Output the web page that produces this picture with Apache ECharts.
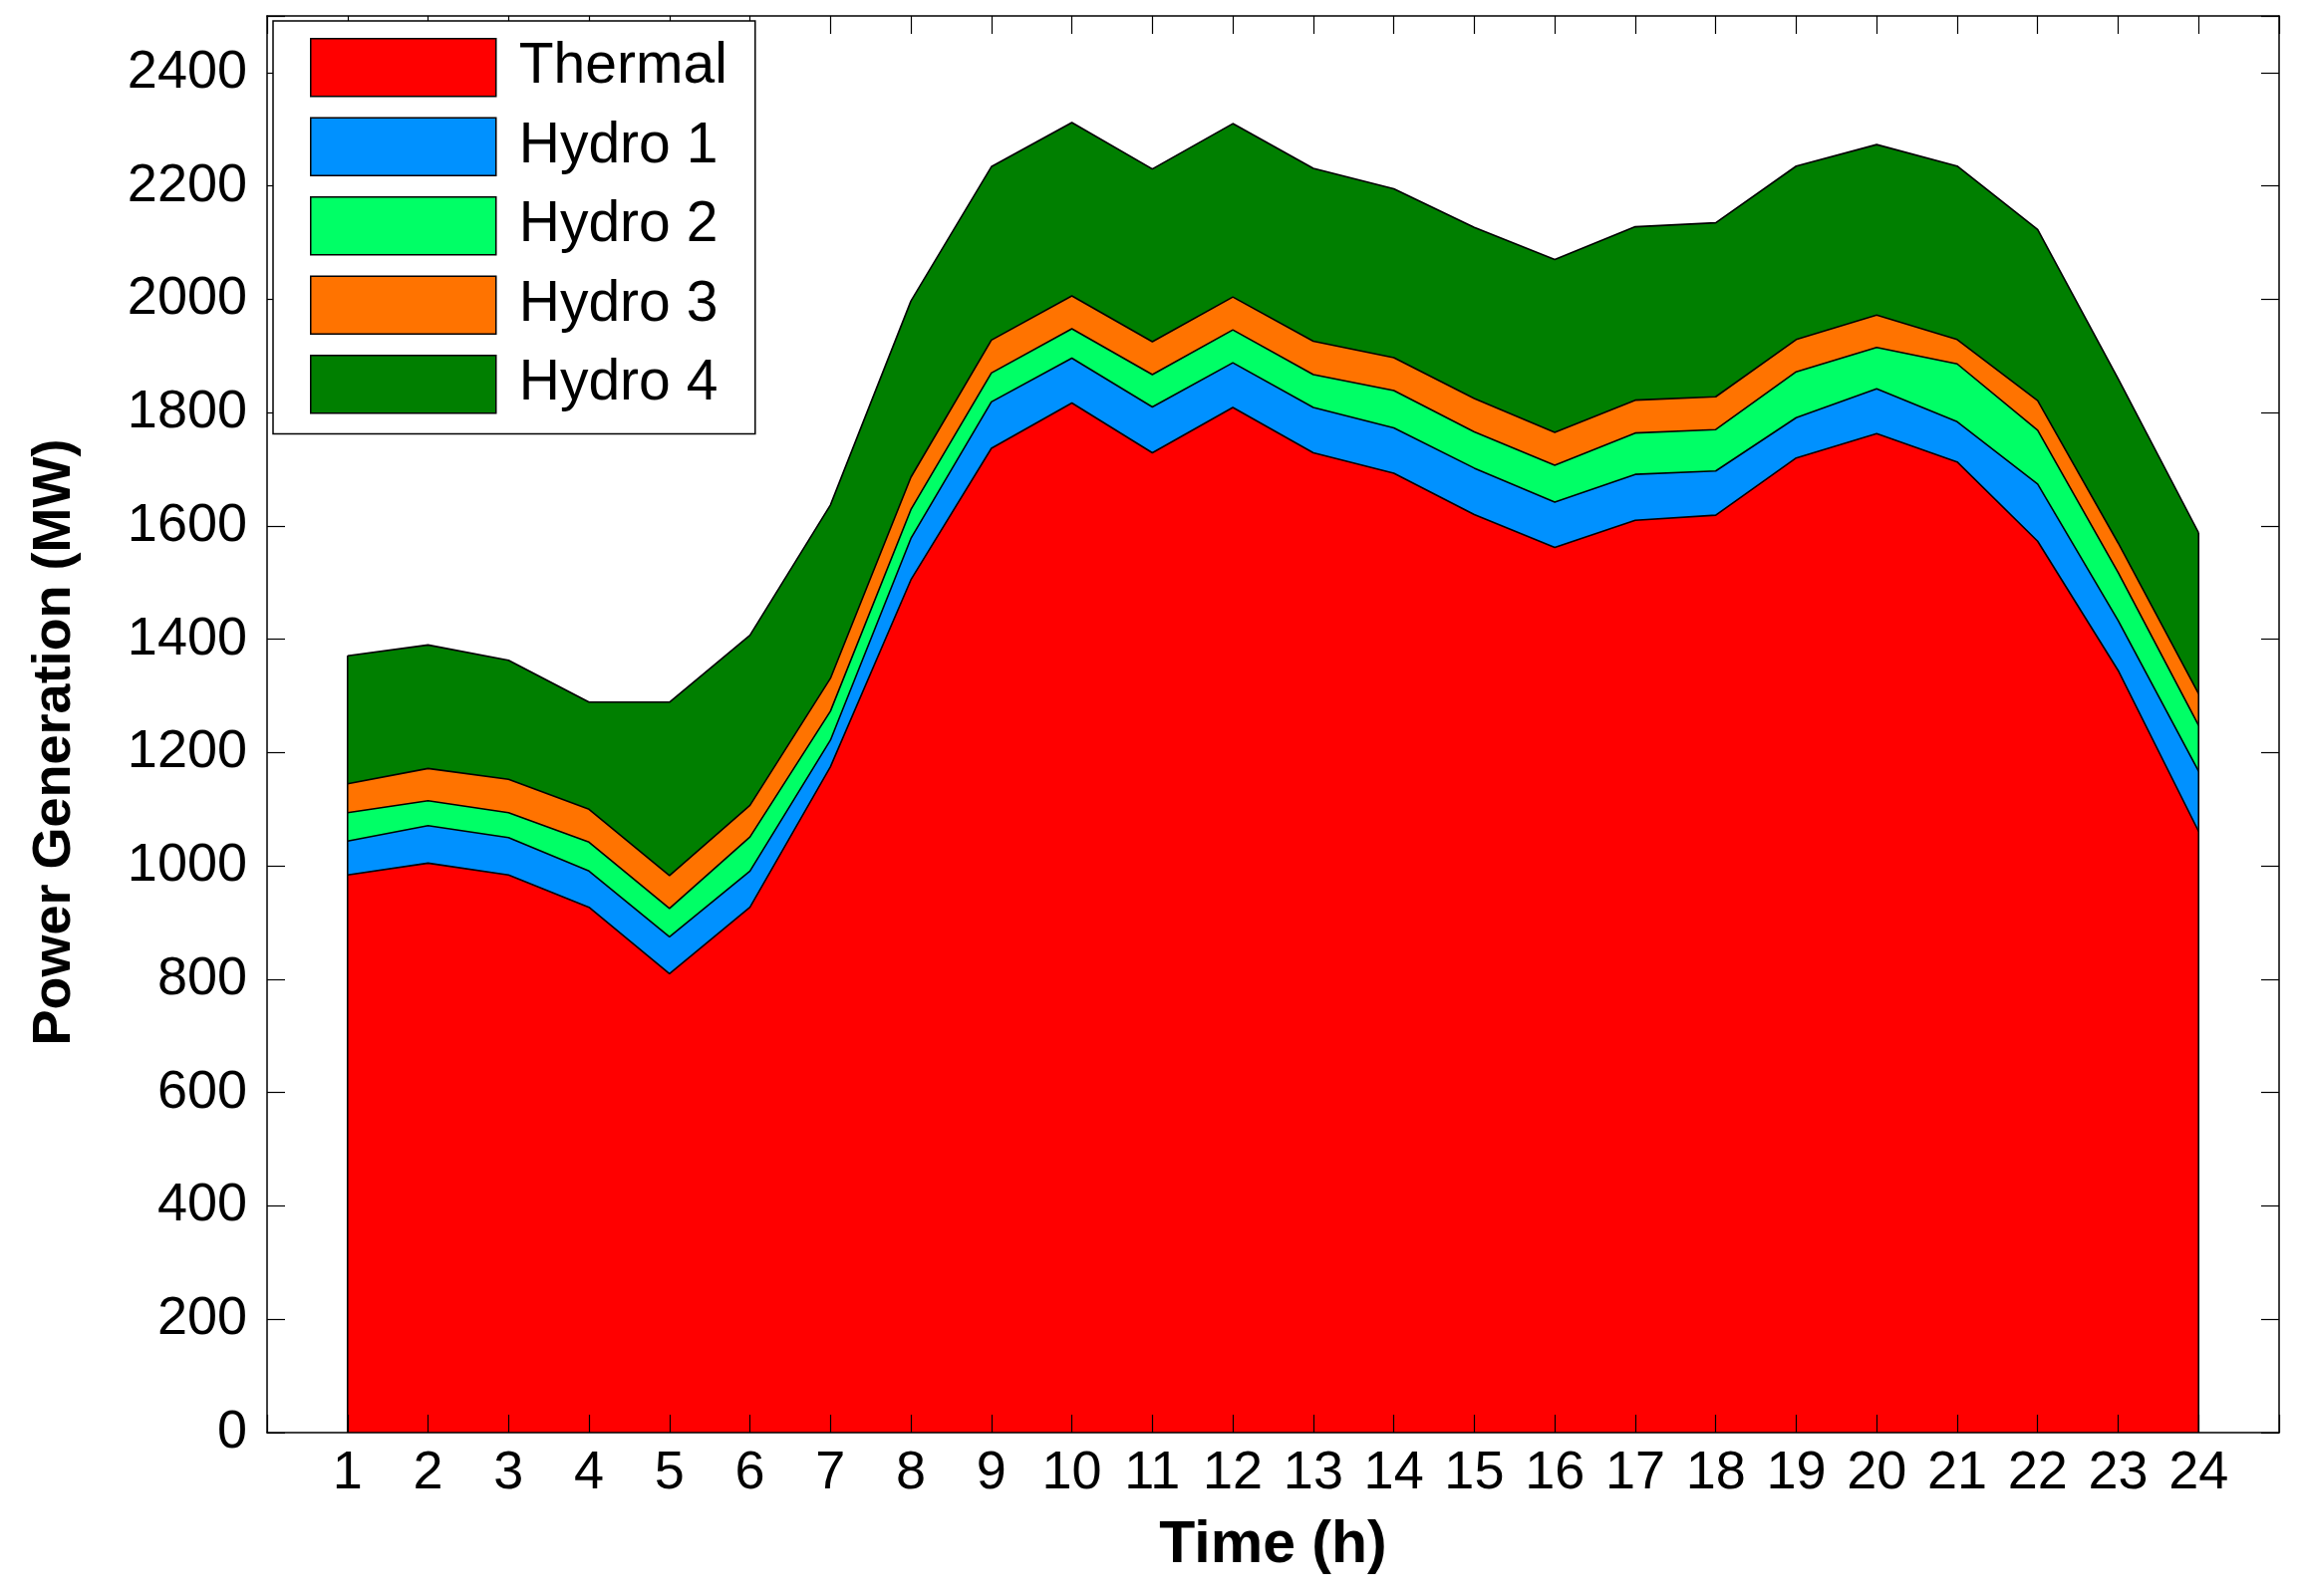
<!DOCTYPE html>
<html>
<head>
  <meta charset="utf-8">
  <script src="https://cdn.jsdelivr.net/npm/echarts@6.0.0/dist/echarts.min.js"></script>
  <style>
    body { margin: 0; background: #fff; }
    #chart { width: 2313px; height: 1602px; }
  </style>
</head>
<body>
  <div id="chart"></div>
  <script>
    // hourly generation per unit (MW)
    var hours   = [1, 2, 3, 4, 5, 6, 7, 8, 9, 10, 11, 12, 13, 14, 15, 16, 17, 18, 19, 20, 21, 22, 23, 24];
    var thermal = [984, 1005, 984, 927, 810, 927, 1175, 1505, 1737, 1817, 1729, 1809, 1729, 1693, 1620, 1562, 1610, 1619, 1720, 1763, 1713, 1573, 1345, 1061];
    var hydro1  = [60, 66, 66, 64, 65, 64, 47, 73, 82, 79, 81, 79, 80, 80, 82, 80, 81, 78, 71, 79, 71, 101, 88, 106];
    var hydro2  = [50, 44, 44, 51, 50, 60, 51, 51, 51, 52, 57, 58, 58, 66, 64, 65, 73, 73, 81, 73, 102, 95, 85, 81];
    var hydro3  = [51, 57, 59, 58, 58, 56, 58, 57, 58, 58, 58, 58, 59, 58, 59, 58, 58, 58, 57, 57, 43, 52, 52, 56];
    var hydro4  = [226, 218, 210, 189, 306, 300, 306, 311, 306, 306, 305, 306, 305, 298, 302, 305, 306, 307, 306, 301, 306, 302, 290, 284];

    var names  = ['Thermal', 'Hydro 1', 'Hydro 2', 'Hydro 3', 'Hydro 4'];
    var values = [thermal, hydro1, hydro2, hydro3, hydro4];
    var colors = ['#ff0000', '#0091ff', '#00ff66', '#ff7300', '#007f00'];

    var FONT = 'Liberation Sans';
    var myChart = echarts.init(document.getElementById('chart'));

    // running totals: layer k is drawn from 0 up to the sum of layers 0..k,
    // the lower layers are painted on top so the bands look stacked
    var cum = [];
    values.forEach(function (arr, k) {
      cum.push(arr.map(function (v, i) { return v + (k > 0 ? cum[k - 1][i] : 0); }));
    });
    var total = cum[cum.length - 1];

    var series = names.map(function (n, k) {
      return {
        name: n,
        type: 'line',
        data: hours.map(function (h, i) { return [h, cum[k][i]]; }),
        showSymbol: false,
        symbol: 'none',
        color: colors[k],
        lineStyle: { color: '#000', width: 1.6 },
        areaStyle: { color: colors[k], opacity: 1, origin: 0 },
        itemStyle: { color: colors[k], borderColor: '#000', borderWidth: 1.5 },
        animation: false,
        z: 10 - k
      };
    });

    // vertical outline at both ends of the filled region
    [0, hours.length - 1].forEach(function (i) {
      series.push({
        name: 'edge' + i,
        type: 'line',
        data: [[hours[i], 0], [hours[i], total[i]]],
        showSymbol: false,
        symbol: 'none',
        lineStyle: { color: '#000', width: 1.6 },
        animation: false,
        z: 11
      });
    });

    var tick = { show: true, inside: true, length: 18, lineStyle: { color: '#000', width: 1.2 } };
    var line = { show: true, onZero: false, lineStyle: { color: '#000', width: 1.5 } };

    var option = {
      backgroundColor: '#fff',
      animation: false,
      grid: { left: 268, right: 26, top: 16, bottom: 164, containLabel: false, outerBoundsMode: 'none' },
      legend: {
        orient: 'vertical',
        left: 274,
        top: 21,
        data: names,
        icon: 'rect',
        itemWidth: 186,
        itemHeight: 58,
        itemGap: 20,
        padding: [17, 28, 20, 37],
        backgroundColor: '#fff',
        borderColor: '#000',
        borderWidth: 1.5,
        itemStyle: { borderColor: '#000', borderWidth: 1.5 },
        textStyle: { fontFamily: FONT, fontSize: 57, color: '#000', lineHeight: 58, padding: [0, 0, 0, 18] },
        z: 20
      },
      xAxis: [{
        type: 'value',
        min: 0, max: 25, interval: 1,
        name: 'Time (h)',
        nameLocation: 'middle',
        nameGap: 84,
        nameTextStyle: { fontFamily: FONT, fontSize: 59, fontWeight: 'bold', color: '#000' },
        axisLine: line,
        axisTick: tick,
        splitLine: { show: false },
        axisLabel: {
          fontFamily: FONT, fontSize: 54, color: '#000', margin: 14,
          formatter: function (v) { return (v >= 1 && v <= 24) ? String(v) : ''; }
        },
        z: 15
      }, {
        type: 'value', position: 'top',
        min: 0, max: 25, interval: 1,
        axisLine: line, axisTick: tick,
        axisLabel: { show: false }, splitLine: { show: false },
        z: 15
      }],
      yAxis: [{
        type: 'value',
        min: 0, max: 2500, interval: 200,
        name: 'Power Generation (MW)',
        nameLocation: 'middle',
        nameGap: 186,
        nameTextStyle: { fontFamily: FONT, fontSize: 54, fontWeight: 'bold', color: '#000', padding: [0, 36, 0, 0] },
        axisLine: line,
        axisTick: tick,
        splitLine: { show: false },
        axisLabel: {
          fontFamily: FONT, fontSize: 54, color: '#000', margin: 20,
          formatter: function (v) { return v % 200 === 0 ? String(v) : ''; }
        },
        z: 15
      }, {
        type: 'value', position: 'right',
        min: 0, max: 2500, interval: 200,
        axisLine: line, axisTick: tick,
        axisLabel: { show: false }, splitLine: { show: false },
        z: 15
      }],
      series: series
    };

    myChart.setOption(option);
  </script>
</body>
</html>
